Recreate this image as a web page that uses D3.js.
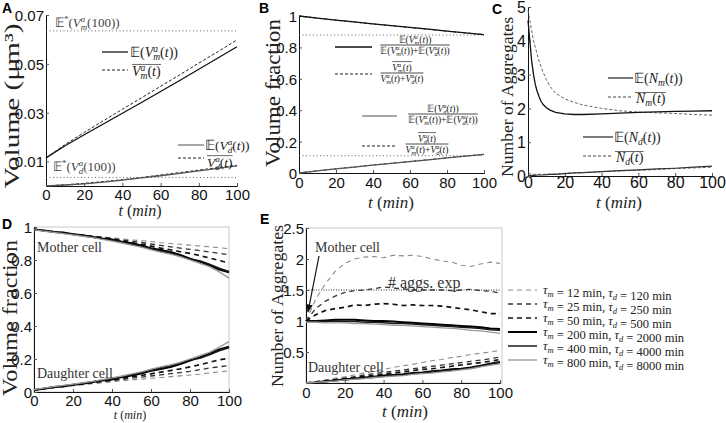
<!DOCTYPE html>
<html><head><meta charset="utf-8">
<script src="https://cdn.jsdelivr.net/npm/d3@7"></script>
<style>body{margin:0;background:#fff}svg{display:block}</style>
</head><body><svg id="c" width="726" height="423"></svg>
<script>
// ---------------- DATA ----------------
const tA = [0,10,20,30,40,50,60,70,80,90,100];
const volMotherExp = [0.0115,0.0165,0.0210,0.0254,0.0298,0.0342,0.0387,0.0432,0.0478,0.0524,0.0570];
const volMotherBar = [0.0115,0.0170,0.0219,0.0267,0.0314,0.0361,0.0408,0.0455,0.0503,0.0550,0.0598];
const volDaughterExp = [0,0.0004,0.0009,0.0016,0.0024,0.0033,0.0042,0.0052,0.0062,0.0072,0.0082];
const volDaughterBar = [0,0.0005,0.0011,0.0018,0.0026,0.0035,0.0045,0.0055,0.0065,0.0075,0.0085];
const volMotherStar = 0.0635, volDaughterStar = 0.0035;

const tB = [0,10,20,30,40,50,60,70,80,90,100];
const fracMotherExp = [1.0,0.987,0.974,0.962,0.95,0.939,0.927,0.916,0.904,0.893,0.882];
const fracMotherBar = [1.0,0.986,0.973,0.961,0.949,0.938,0.926,0.915,0.903,0.892,0.881];
const fracDaughterExp = [0,0.013,0.026,0.038,0.05,0.061,0.073,0.084,0.096,0.107,0.118];
const fracDaughterBar = [0,0.014,0.027,0.039,0.051,0.062,0.074,0.085,0.097,0.108,0.119];
const fracMotherStar = 0.879, fracDaughterStar = 0.11;

const tC = [0,1,2,3,4,5,6,7,8,10,12,15,20,25,30,40,50,60,70,80,90,100];
const aggMotherExp = [4.6,4.0,3.4,3.0,2.7,2.5,2.35,2.22,2.13,2.02,1.95,1.88,1.84,1.82,1.82,1.84,1.86,1.88,1.9,1.91,1.92,1.93];
const aggMotherBar = [4.9,4.6,4.3,4.0,3.8,3.6,3.4,3.25,3.1,2.85,2.65,2.45,2.28,2.18,2.1,2.0,1.93,1.89,1.87,1.85,1.82,1.8];
const aggDaughterExp = [0.02,0.02,0.02,0.02,0.02,0.03,0.03,0.03,0.03,0.04,0.05,0.05,0.07,0.09,0.1,0.13,0.16,0.18,0.21,0.23,0.26,0.29];
const aggDaughterBar = [0.06,0.07,0.06,0.05,0.05,0.05,0.05,0.05,0.05,0.05,0.06,0.06,0.08,0.09,0.1,0.13,0.15,0.17,0.19,0.22,0.24,0.26];

const tSim = [0,5,10,15,20,25,30,35,40,45,50,55,60,65,70,75,80,85,90,95,100];
const tauM = [12,25,50,200,400,800];
const tauD = [120,250,500,2000,4000,8000];
// D: volume fraction
const dMother = [
 [0.985,0.978,0.972,0.965,0.958,0.952,0.945,0.94,0.934,0.928,0.922,0.917,0.912,0.905,0.9,0.895,0.89,0.885,0.88,0.875,0.868],
 [0.985,0.978,0.972,0.964,0.957,0.951,0.943,0.937,0.93,0.922,0.914,0.906,0.897,0.889,0.88,0.872,0.865,0.857,0.849,0.84,0.832],
 [0.985,0.978,0.971,0.964,0.957,0.95,0.942,0.935,0.927,0.916,0.905,0.895,0.884,0.872,0.862,0.85,0.84,0.827,0.812,0.797,0.782],
 [0.985,0.979,0.97,0.966,0.956,0.95,0.94,0.931,0.925,0.911,0.902,0.888,0.872,0.86,0.848,0.83,0.808,0.79,0.768,0.742,0.725],
 [0.988,0.977,0.972,0.962,0.958,0.946,0.94,0.928,0.92,0.908,0.895,0.882,0.87,0.852,0.84,0.822,0.805,0.795,0.775,0.75,0.73],
 [0.982,0.975,0.968,0.96,0.952,0.944,0.935,0.925,0.914,0.903,0.89,0.878,0.862,0.848,0.835,0.82,0.8,0.78,0.76,0.728,0.69]];
const dDaughter = [
 [0.012,0.02,0.026,0.032,0.038,0.044,0.05,0.056,0.062,0.068,0.073,0.078,0.083,0.088,0.093,0.098,0.103,0.108,0.115,0.122,0.128],
 [0.012,0.02,0.027,0.034,0.041,0.048,0.055,0.062,0.069,0.076,0.083,0.09,0.097,0.104,0.111,0.118,0.125,0.135,0.145,0.153,0.16],
 [0.012,0.021,0.028,0.036,0.043,0.05,0.058,0.066,0.073,0.082,0.092,0.1,0.11,0.12,0.13,0.14,0.152,0.165,0.18,0.195,0.205],
 [0.012,0.02,0.03,0.034,0.044,0.05,0.06,0.07,0.076,0.09,0.1,0.112,0.128,0.14,0.152,0.17,0.19,0.21,0.232,0.258,0.275],
 [0.01,0.022,0.028,0.038,0.042,0.054,0.06,0.072,0.08,0.092,0.105,0.118,0.13,0.148,0.16,0.178,0.195,0.205,0.225,0.25,0.268],
 [0.015,0.024,0.032,0.04,0.048,0.056,0.065,0.075,0.086,0.097,0.11,0.122,0.138,0.152,0.165,0.18,0.2,0.22,0.24,0.272,0.305]];
// E: number of aggregates
const eMother = [
 [1.0,1.35,1.6,1.8,1.93,2.0,2.03,2.04,2.02,2.06,2.05,2.06,2.04,2.0,1.97,1.95,1.9,1.88,1.92,1.95,1.93],
 [1.0,1.2,1.32,1.4,1.46,1.49,1.5,1.52,1.55,1.53,1.52,1.5,1.5,1.5,1.5,1.49,1.5,1.51,1.49,1.48,1.45],
 [1.0,1.1,1.17,1.2,1.22,1.26,1.25,1.27,1.28,1.27,1.25,1.26,1.25,1.25,1.24,1.22,1.2,1.18,1.15,1.12,1.12],
 [1.0,1.0,1.01,1.02,1.02,1.02,1.01,1.0,1.0,0.99,0.98,0.97,0.96,0.95,0.94,0.93,0.92,0.91,0.9,0.88,0.87],
 [0.99,0.99,0.99,1.0,0.99,0.99,0.98,0.98,0.97,0.96,0.96,0.95,0.94,0.93,0.92,0.91,0.9,0.89,0.88,0.86,0.85],
 [0.98,0.98,0.97,0.97,0.97,0.96,0.96,0.95,0.94,0.93,0.93,0.92,0.91,0.9,0.89,0.88,0.87,0.85,0.84,0.82,0.8]];
const eDaughter = [
 [0,0.02,0.05,0.08,0.1,0.13,0.16,0.19,0.22,0.25,0.28,0.3,0.33,0.36,0.38,0.41,0.43,0.46,0.48,0.5,0.53],
 [0,0.02,0.04,0.06,0.08,0.1,0.13,0.15,0.17,0.19,0.21,0.23,0.25,0.27,0.29,0.31,0.33,0.35,0.37,0.39,0.42],
 [0,0.015,0.03,0.05,0.07,0.09,0.11,0.12,0.14,0.16,0.18,0.2,0.22,0.23,0.25,0.27,0.29,0.31,0.33,0.35,0.38],
 [0,0.01,0.03,0.04,0.06,0.07,0.09,0.1,0.12,0.13,0.14,0.16,0.17,0.19,0.2,0.22,0.23,0.25,0.28,0.31,0.34],
 [0,0.01,0.02,0.04,0.05,0.07,0.08,0.09,0.11,0.12,0.13,0.15,0.16,0.18,0.19,0.21,0.22,0.24,0.27,0.3,0.33],
 [0,0.01,0.02,0.03,0.05,0.06,0.07,0.09,0.1,0.11,0.12,0.14,0.15,0.16,0.18,0.19,0.21,0.23,0.26,0.29,0.31]];
const aggsExp = 1.5;
const xTicks = [0,20,40,60,80,100];

// ---------------- STYLES ----------------
const SANS = "'Liberation Sans',Arial,Helvetica,sans-serif";
const SERIF = "'Liberation Serif','Times New Roman',serif";
const scenStyle = [
  {c:"#8a8a8a", w:1.1, d:"5,4"},
  {c:"#333", w:1.3, d:"5,4"},
  {c:"#111", w:1.7, d:"5,4"},
  {c:"#000", w:2.0, d:null},
  {c:"#1a1a1a", w:1.5, d:null},
  {c:"#9a9a9a", w:1.3, d:null}];

const svg = d3.select("#c");

function mtext(g, x, y, segs, size, anchor, fill) {
  const t = g.append("text").attr("x", x).attr("y", y)
    .attr("font-family", SERIF).attr("font-size", size)
    .attr("text-anchor", anchor || "start").attr("fill", fill || "#222");
  let cur = 0, prev = null;
  segs.forEach(s => {
    const [str, kind] = typeof s === "string" ? [s, ""] : s;
    let off = 0, sz = 1;
    if (kind.includes("^")) { off = -0.36*size; sz = 0.68; }
    if (kind.includes("_")) { off = 0.22*size; sz = 0.68; }
    const ts = t.append("tspan").text(str).attr("dy", off - cur);
    if (kind.includes("i")) ts.attr("font-style", "italic");
    if (sz !== 1) ts.attr("font-size", size*sz);
    if (kind.includes("b") && prev) ts.attr("dx", -prev.getComputedTextLength());
    cur = off; prev = ts.node();
  });
  return t;
}
function overline(g, t, pad) {
  const b = t.node().getBBox();
  g.append("line").attr("x1", b.x).attr("x2", b.x + b.width)
    .attr("y1", b.y + (pad||1)).attr("y2", b.y + (pad||1))
    .attr("stroke", "#444").attr("stroke-width", 0.8);
}
const E = "𝔼";
const Vm = [["V","i"],["a","^i"],["m","_ib"]];
const Vd = [["V","i"],["a","^i"],["d","_ib"]];
const tt = ["(",["t","i"],")"];

function setupPanel(o) {
  const g = svg.append("g");
  const x = d3.scaleLinear().domain([0,100]).range([o.x0, o.x1]);
  const y = d3.scaleLinear().domain(o.yd).range([o.y0, o.y1]);
  if (o.box) {
    g.append("rect").attr("x", o.x0).attr("y", o.y1).attr("width", (o.bx1||o.x1)-o.x0).attr("height", o.y0-o.y1)
      .attr("fill","none").attr("stroke","#c8c8c8").attr("stroke-width",1);
  }
  const xa = g.append("g").attr("transform", `translate(0,${o.y0})`)
    .call(d3.axisBottom(x).tickValues(o.xt || xTicks).tickSize(-3).tickPadding(o.xpad||4).tickFormat(d3.format("d")));
  const ya = g.append("g").attr("transform", `translate(${o.x0},0)`)
    .call(d3.axisLeft(y).tickValues(o.yt).tickSize(-3).tickPadding(o.ypad||2).tickFormat(o.yf));
  [xa, ya].forEach(a => {
    a.select(".domain").attr("stroke", "#111").attr("stroke-width", 1);
    a.selectAll(".tick line").attr("stroke", "#555");
    a.selectAll("text").attr("font-family", SANS).attr("font-size", o.fs||15).attr("fill","#111");
  });
  ya.selectAll(".tick text").attr("dy","0.36em");
  return {g, x, y};
}
function plotLine(p, xs, ys, st) {
  const line = d3.line().x((d,i) => p.x(xs[i])).y(d => p.y(d));
  const path = p.g.append("path").datum(ys).attr("d", line).attr("fill","none")
    .attr("stroke", st.c).attr("stroke-width", st.w).attr("stroke-linejoin","round");
  if (st.d) path.attr("stroke-dasharray", st.d);
  return path;
}
function hline(p, v, st) {
  p.g.append("line").attr("x1", p.x(0)).attr("x2", p.x(100)).attr("y1", p.y(v)).attr("y2", p.y(v))
    .attr("stroke", st.c).attr("stroke-width", st.w).attr("stroke-dasharray", st.d);
}
function legLine(g, x1, x2, y, st) {
  const l = g.append("line").attr("x1",x1).attr("x2",x2).attr("y1",y).attr("y2",y)
    .attr("stroke",st.c).attr("stroke-width",st.w);
  if (st.d) l.attr("stroke-dasharray", st.d);
}
function rotLabel(x, y, str, size, len) {
  svg.append("text").attr("transform", `translate(${x},${y}) rotate(-90)`)
    .attr("text-anchor","middle").attr("font-family", SERIF).attr("font-size", size)
    .attr("fill","#222").attr("textLength", len).attr("lengthAdjust","spacingAndGlyphs").text(str);
}
function panelLetter(x, y, s) {
  svg.append("text").attr("x", x).attr("y", y).attr("font-family", SANS).attr("font-weight","bold")
    .attr("font-size", 14).attr("fill","#000").text(s);
}
function tLabel(cx, y, size) {
  mtext(svg, cx, y, [["t","i"]," (",["min","i"],")"], size, "middle");
}
const dotted = {c:"#666", w:1, d:"1,2.5"};
const solidK = {c:"#111", w:1.3, d:null};
const dashK = {c:"#222", w:1, d:"3,2"};
const solidG = {c:"#555", w:1.3, d:null};
const fracFmt = d => d===0||d===1 ? d3.format("d")(d) : d3.format(".1f")(d);

// ---------------- PANEL A ----------------
{
  const p = setupPanel({x0:46, x1:237, y0:186, y1:15, yd:[0,0.07], yt:[0.01,0.03,0.05,0.07], yf:d3.format(".2f"), xpad:3});
  hline(p, volMotherStar, dotted);
  hline(p, volDaughterStar, dotted);
  plotLine(p, tA, volMotherBar, dashK);
  plotLine(p, tA, volMotherExp, solidK);
  plotLine(p, tA, volDaughterBar, dashK);
  plotLine(p, tA, volDaughterExp, solidG);
  mtext(p.g, 55, 27, [E, ["*","^"], ["(",""], ...Vm, "(100))"], 13, "start", "#444");
  mtext(p.g, 53, 171, [E, ["*","^"], ["(",""], ...Vd, "(100))"], 13, "start", "#444");
  legLine(p.g, 102, 128, 52, {c:"#444", w:1.6});
  mtext(p.g, 130, 57, [E+"(", ...Vm, ...tt, ")"], 14);
  legLine(p.g, 102, 128, 70, dashK);
  overline(p.g, mtext(p.g, 132, 76, [...Vm, ...tt], 14), 1.5);
  legLine(p.g, 178, 204, 145, {c:"#777", w:1.3});
  mtext(p.g, 205, 150, [E+"(", ...Vd, ...tt, ")"], 13.5);
  legLine(p.g, 178, 204, 158, dashK);
  overline(p.g, mtext(p.g, 207, 167, [...Vd, ...tt], 13.5), 1.5);
  rotLabel(19, 106, "Volume (μm³)", 21, 165);
  tLabel(140, 216, 16);
  panelLetter(2, 13, "A");
}
// ---------------- PANEL B ----------------
function frac(g, cx, cy, num, den, size, numOver) {
  const n = mtext(g, cx, cy - 2.5, num, size, "middle");
  const d = mtext(g, cx, cy + size*0.85 + 0.5, den, size, "middle");
  if (numOver) overline(g, n, 0.5);
  const w = Math.max(n.node().getBBox().width, d.node().getBBox().width);
  g.append("line").attr("x1", cx - w/2).attr("x2", cx + w/2).attr("y1", cy).attr("y2", cy)
    .attr("stroke", "#888").attr("stroke-width", 1.4);
}
{
  const p = setupPanel({x0:299, x1:484, y0:173, y1:16, yd:[0,1], yt:[0,0.2,0.4,0.6,0.8,1], yf:fracFmt, xpad:4});
  hline(p, fracMotherStar, dotted);
  hline(p, fracDaughterStar, dotted);
  plotLine(p, tB, fracMotherBar, dashK);
  plotLine(p, tB, fracMotherExp, solidK);
  plotLine(p, tB, fracDaughterBar, dashK);
  plotLine(p, tB, fracDaughterExp, solidG);
  const fs = 9.5;
  legLine(p.g, 335, 372, 47, {c:"#111", w:1.4});
  frac(p.g, 415, 45, [E+"(", ...Vm, ...tt, ")"], [E+"(", ...Vm, ...tt, ")+"+E+"(", ...Vd, ...tt, ")"], fs);
  legLine(p.g, 335, 372, 74, dashK);
  frac(p.g, 402, 73, [...Vm, ...tt], [...Vm, ...tt, "+", ...Vd, ...tt], fs, true);
  legLine(p.g, 362, 397, 116, {c:"#888", w:1.4});
  frac(p.g, 443, 114, [E+"(", ...Vd, ...tt, ")"], [E+"(", ...Vm, ...tt, ")+"+E+"(", ...Vd, ...tt, ")"], fs);
  legLine(p.g, 362, 397, 146, dashK);
  frac(p.g, 427, 144, [...Vd, ...tt], [...Vm, ...tt, "+", ...Vd, ...tt], fs, true);
  rotLabel(280, 93, "Volume fraction", 21, 148);
  tLabel(391, 208, 17);
  panelLetter(259, 13, "B");
}
// ---------------- PANEL C ----------------
{
  const p = setupPanel({x0:528, x1:712, y0:176, y1:7, yd:[0,5], yt:[0,1,2,3,4,5], yf:d3.format("d"), xpad:1, fs:16});
  plotLine(p, tC, aggMotherBar, {c:"#666", w:1, d:"3,2"});
  plotLine(p, tC, aggMotherExp, solidK);
  plotLine(p, tC, aggDaughterBar, {c:"#666", w:1, d:"3,2"});
  plotLine(p, tC, aggDaughterExp, {c:"#333", w:1.2});
  legLine(p.g, 608, 633, 78, {c:"#333", w:1.3});
  mtext(p.g, 634, 83, [E+"(", ["N","i"], ["m","_i"], ["(",""], ["t","i"], "))"], 14);
  legLine(p.g, 608, 633, 97, {c:"#444", w:1, d:"3,2"});
  overline(p.g, mtext(p.g, 636, 103, [["N","i"], ["m","_i"], ["(",""], ["t","i"], ")"], 14), 1.5);
  legLine(p.g, 583, 613, 137, {c:"#333", w:1.3});
  mtext(p.g, 614, 142, [E+"(", ["N","i"], ["d","_i"], ["(",""], ["t","i"], "))"], 14);
  legLine(p.g, 583, 613, 156, {c:"#444", w:1, d:"3,2"});
  overline(p.g, mtext(p.g, 616, 162, [["N","i"], ["d","_i"], ["(",""], ["t","i"], ")"], 14), 1.5);
  rotLabel(513, 97, "Number of Aggregates", 16, 160);
  tLabel(619, 208, 17);
  panelLetter(492, 14, "C");
}
// ---------------- PANEL D ----------------
{
  const p = setupPanel({x0:34, x1:229, y0:392, y1:227, yd:[0,1], yt:[0,0.2,0.4,0.6,0.8,1], yf:fracFmt, box:true, xpad:3, fs:15});
  dMother.forEach((s,i) => plotLine(p, tSim, s, scenStyle[i]));
  dDaughter.forEach((s,i) => plotLine(p, tSim, s, scenStyle[i]));
  mtext(p.g, 37, 252, ["Mother cell"], 14, "start", "#333");
  mtext(p.g, 37, 378, ["Daughter cell"], 14, "start", "#333");
  rotLabel(17, 318, "Volume fraction", 20, 156);
  tLabel(130, 419, 12);
  panelLetter(2, 229, "D");
}
// ---------------- PANEL E ----------------
{
  const p = setupPanel({x0:306, x1:500, bx1:502, y0:383, y1:228, yd:[0,2.5], yt:[0.5,1,1.5,2,2.5], yf:d => Number.isInteger(d) ? d3.format("d")(d) : d3.format(".1f")(d), box:true, xpad:4, fs:15});
  hline(p, aggsExp, {c:"#333", w:1, d:"1,1.5"});
  eMother.forEach((s,i) => plotLine(p, tSim, s, scenStyle[i]));
  eDaughter.forEach((s,i) => plotLine(p, tSim, s, scenStyle[i]));
  mtext(p.g, 388, 288, ["# aggs. exp"], 16, "start", "#333");
  mtext(p.g, 315, 252, ["Mother cell"], 14, "start", "#333");
  mtext(p.g, 308, 372, ["Daughter cell"], 14, "start", "#333");
  svg.append("defs").append("marker").attr("id","ah").attr("viewBox","0 0 10 10").attr("refX",9).attr("refY",5)
    .attr("markerWidth",7).attr("markerHeight",7).attr("orient","auto")
    .append("path").attr("d","M0,1 L10,5 L0,9 z").attr("fill","#111");
  p.g.append("line").attr("x1", 319).attr("y1", 256).attr("x2", 308).attr("y2", 312)
    .attr("stroke","#111").attr("stroke-width",1.2).attr("marker-end","url(#ah)");
  // legend
  const ly = [290, 304, 318, 332, 346, 360];
  tauM.forEach((m, i) => {
    legLine(svg, 508, 537, ly[i], scenStyle[i]);
    mtext(svg, 543, ly[i] + 4, [["τ","i"], ["m","_i"], ["",""], ` = ${m} min, `, ["τ","i"], ["d","_i"], ["",""], ` = ${tauD[i]} min`], 12.5);
  });
  rotLabel(283, 306, "Number of Aggregates", 16, 162);
  tLabel(405, 417, 17);
  panelLetter(260, 224, "E");
}
</script></body></html>
